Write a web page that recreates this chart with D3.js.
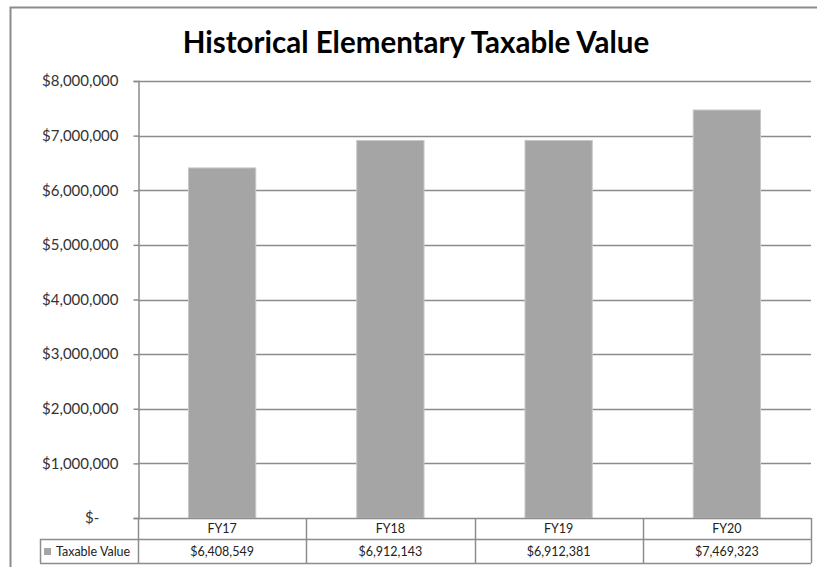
<!DOCTYPE html>
<html>
<head>
    <title>Historical Elementary Taxable Value</title>
    <script src="https://d3js.org/d3.v7.min.js"></script>
    <style>
        body { margin: 0; padding: 0; background: #fff; overflow: hidden; }
        text { font-family: Lato, "Open Sans", sans-serif; }
    </style>
</head>
<body>
    <script>
        var width = 817, height = 567;

        var categories = ["FY17", "FY18", "FY19", "FY20"];
        var values = [6408549, 6912143, 6912381, 7469323];
        var valueLabels = ["$6,408,549", "$6,912,143", "$6,912,381", "$7,469,323"];
        var yTicks = [0, 1000000, 2000000, 3000000, 4000000, 5000000, 6000000, 7000000, 8000000];
        var seriesName = "Taxable Value";

        var plot = { left: 138, right: 811, top: 81, bottom: 518 };
        var rowH = [21, 24];

        var svg = d3.select("body").append("svg")
            .attr("width", width)
            .attr("height", height);

        // chart frame (cut off at bottom and right like the source)
        svg.append("path")
            .attr("d", "M10.5," + (height + 2) + "V7.5H" + (width + 2))
            .attr("fill", "none")
            .attr("stroke", "#8c8c8c")
            .attr("stroke-width", 2);

        svg.append("text")
            .attr("x", 416)
            .attr("y", 53)
            .attr("text-anchor", "middle")
            .attr("font-size", 29.5)
            .attr("font-weight", "bold")
            .attr("fill", "#000")
            .text("Historical Elementary Taxable Value");

        var x = d3.scaleBand()
            .domain(categories)
            .range([plot.left, plot.right])
            .paddingInner(0.6)
            .paddingOuter(0.3);

        var xCell = d3.scaleBand()
            .domain(categories)
            .range([plot.left, plot.right]);

        var y = d3.scaleLinear()
            .domain([0, 8000000])
            .range([plot.bottom, plot.top]);

        // gridlines
        svg.append("g")
            .selectAll("line")
            .data(yTicks.filter(d => d > 0))
            .join("line")
            .attr("x1", plot.left)
            .attr("x2", plot.right)
            .attr("y1", d => Math.round(y(d)) + 0.5)
            .attr("y2", d => Math.round(y(d)) + 0.5)
            .attr("stroke", "#8c8c8c")
            .attr("stroke-width", 1.5);

        // y axis
        var yAxis = d3.axisLeft(y)
            .tickValues(yTicks)
            .tickSize(5)
            .tickPadding(15)
            .tickFormat(d => d === 0 ? "$-     " : "$" + d3.format(",")(d));

        var gy = svg.append("g")
            .attr("transform", "translate(" + (plot.left + 0.5) + ",0)")
            .call(yAxis);
        gy.select(".domain").attr("stroke", "#8c8c8c").attr("stroke-width", 1.5);
        gy.selectAll(".tick line").attr("stroke", "#8c8c8c").attr("stroke-width", 1.5);
        gy.selectAll(".tick text")
            .attr("font-size", 15)
            .attr("fill", "#333")
            .style("font-family", "Lato, sans-serif")
            .attr("xml:space", "preserve");

        // bars
        svg.append("g")
            .selectAll("rect")
            .data(values)
            .join("rect")
            .attr("x", (d, i) => x(categories[i]))
            .attr("y", d => y(d))
            .attr("width", x.bandwidth())
            .attr("height", d => y(0) - y(d))
            .attr("fill", "#a5a5a5")
            .attr("stroke", "#c8c8c8")
            .attr("stroke-width", 1);

        // data table
        var table = svg.append("g").attr("fill", "none").attr("stroke", "#8c8c8c").attr("stroke-width", 1.5);
        var tTop = plot.bottom, tMid = plot.bottom + rowH[0], tBot = tMid + rowH[1];
        var legendLeft = 40;

        table.append("line").attr("x1", plot.left).attr("x2", plot.right).attr("y1", tTop + 0.5).attr("y2", tTop + 0.5);
        table.append("line").attr("x1", legendLeft).attr("x2", plot.right).attr("y1", tMid + 0.5).attr("y2", tMid + 0.5);
        table.append("line").attr("x1", legendLeft).attr("x2", plot.right).attr("y1", tBot + 0.5).attr("y2", tBot + 0.5);
        table.append("line").attr("x1", legendLeft + 0.5).attr("x2", legendLeft + 0.5).attr("y1", tMid).attr("y2", tBot);
        table.selectAll(".vdiv")
            .data(categories.map(c => xCell(c) + xCell.bandwidth()))
            .join("line")
            .attr("class", "vdiv")
            .attr("x1", d => Math.round(d) + 0.5)
            .attr("x2", d => Math.round(d) + 0.5)
            .attr("y1", tTop)
            .attr("y2", tBot);
        table.append("line").attr("x1", plot.left + 0.5).attr("x2", plot.left + 0.5).attr("y1", tTop).attr("y2", tBot);

        svg.append("g")
            .selectAll("text")
            .data(categories)
            .join("text")
            .attr("x", d => xCell(d) + xCell.bandwidth() / 2)
            .attr("y", tTop + 15)
            .attr("text-anchor", "middle")
            .attr("font-size", 12.5)
            .attr("fill", "#222")
            .text(d => d);

        svg.append("g")
            .selectAll("text")
            .data(valueLabels)
            .join("text")
            .attr("x", (d, i) => xCell(categories[i]) + xCell.bandwidth() / 2)
            .attr("y", tMid + 17)
            .attr("text-anchor", "middle")
            .attr("font-size", 12.5)
            .attr("fill", "#222")
            .text(d => d);

        svg.append("rect")
            .attr("x", 44)
            .attr("y", tMid + 9)
            .attr("width", 7)
            .attr("height", 7)
            .attr("fill", "#a5a5a5");

        svg.append("text")
            .attr("x", 56)
            .attr("y", tMid + 17)
            .attr("font-size", 12.5)
            .attr("fill", "#222")
            .text(seriesName);
    </script>
</body>
</html>
